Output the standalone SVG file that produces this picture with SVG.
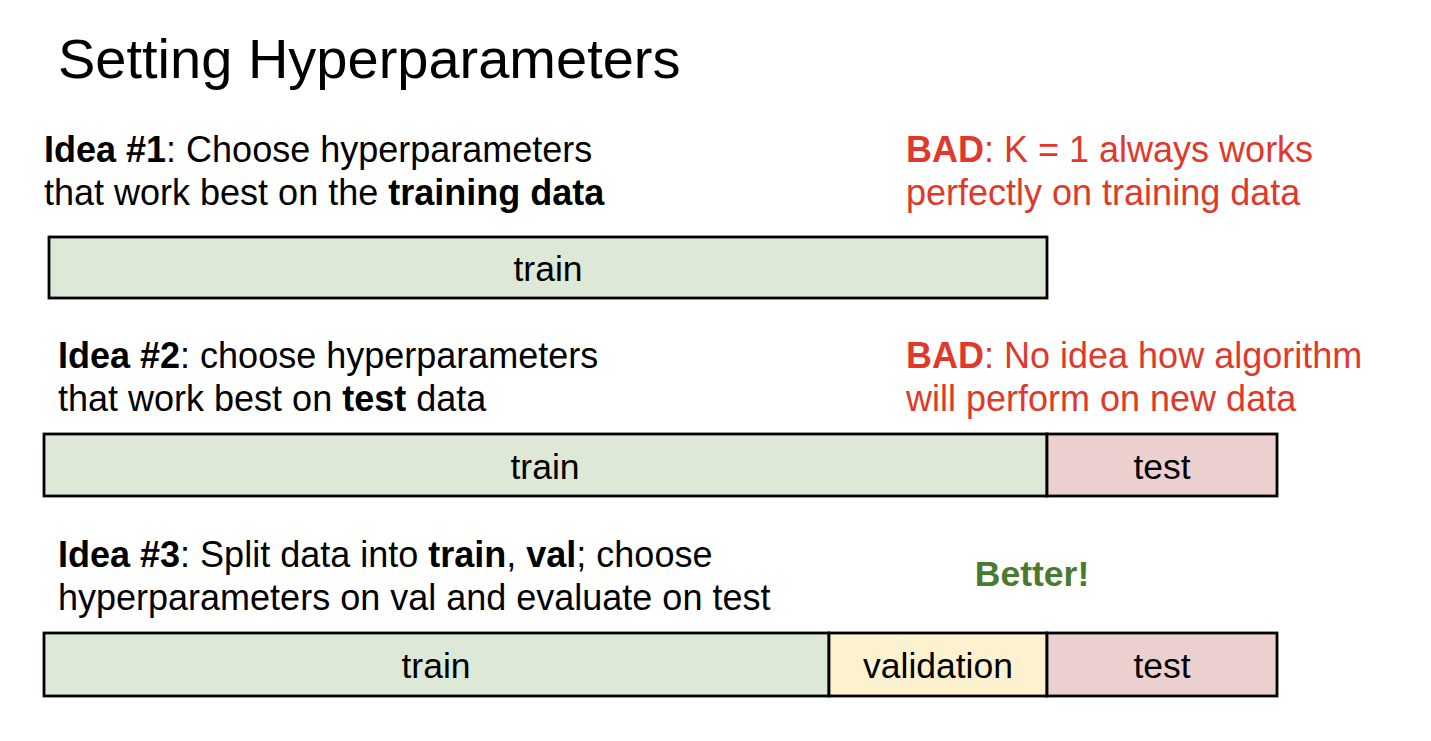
<svg xmlns="http://www.w3.org/2000/svg" width="1431" height="741" viewBox="0 0 1431 741">
<style>
text{font-family:"Liberation Sans",Arial,sans-serif;}
.t{font-size:36px;fill:#000;}
.r{font-size:36px;fill:#e0392b;}
.b{font-weight:bold;}
.lbl{font-size:35.5px;fill:#000;text-anchor:middle;}
.box{stroke:#000;stroke-width:2.8;}
.tr{fill:#dde8d6;}
.va{fill:#fdf2d0;}
.te{fill:#ecd0cf;}
</style>
<rect width="1431" height="741" fill="#fff"/>
<text x="58" y="78" font-size="56" fill="#000">Setting Hyperparameters</text>
<g id="idea1">
<text class="t" x="44" y="162"><tspan class="b">Idea #1</tspan>: Choose hyperparameters</text>
<text class="t" x="44" y="205">that work best on the <tspan class="b">training data</tspan></text>
</g>
<g id="bad1">
<text class="r" x="906" y="162"><tspan class="b">BAD</tspan>: K = 1 always works</text>
<text class="r" x="906" y="205">perfectly on training data</text>
</g>
<g id="row1">
<rect class="box tr" x="49" y="237" width="998" height="61"/>
<text class="lbl" x="548" y="281">train</text>
</g>
<g id="idea2">
<text class="t" x="58" y="368"><tspan class="b">Idea #2</tspan>: choose hyperparameters</text>
<text class="t" x="58" y="411">that work best on <tspan class="b">test</tspan> data</text>
</g>
<g id="bad2">
<text class="r" x="906" y="368"><tspan class="b">BAD</tspan>: No idea how algorithm</text>
<text class="r" x="906" y="411">will perform on new data</text>
</g>
<g id="row2">
<rect class="box tr" x="44" y="434" width="1003" height="62"/>
<rect class="box te" x="1047" y="434" width="230" height="62"/>
<text class="lbl" x="545" y="479">train</text>
<text class="lbl" x="1162" y="479">test</text>
</g>
<g id="idea3">
<text class="t" x="58" y="567"><tspan class="b">Idea #3</tspan>: Split data into <tspan class="b">train</tspan>, <tspan class="b">val</tspan>; choose</text>
<text class="t" x="58" y="610">hyperparameters on val and evaluate on test</text>
</g>
<g id="better">
<text x="1032" y="586" font-size="35.5" font-weight="bold" fill="#4a7a2e" text-anchor="middle">Better!</text>
</g>
<g id="row3">
<rect class="box tr" x="44" y="633" width="785" height="63"/>
<rect class="box va" x="829" y="633" width="218" height="63"/>
<rect class="box te" x="1047" y="633" width="230" height="63"/>
<text class="lbl" x="436" y="678">train</text>
<text class="lbl" x="938" y="678">validation</text>
<text class="lbl" x="1162" y="678">test</text>
</g>
<g id="connectors"/>
</svg>
